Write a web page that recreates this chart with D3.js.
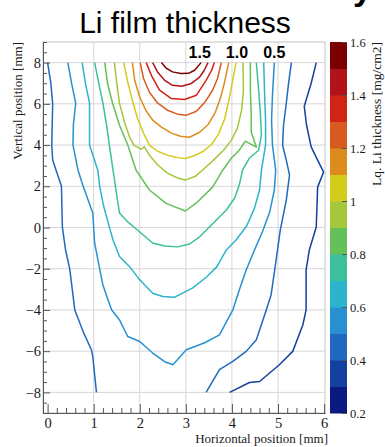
<!DOCTYPE html>
<html>
<head>
<meta charset="utf-8">
<script src="https://cdn.jsdelivr.net/npm/d3@7"></script>
<style>
  html, body { margin: 0; padding: 0; background: #fff; }
  svg { display: block; }
  .serif { font-family: "Liberation Serif", "DejaVu Serif", serif; fill: #1a1a1a; }
  .sans { font-family: "Liberation Sans", Arial, sans-serif; fill: #000; }
  .grid-line { stroke: #d6d6d6; stroke-width: 1; }
  .axis path, .axis line { stroke: #555; }
</style>
</head>
<body>
<div class="container"></div>
<script>
// contour lines, [horizontal mm, vertical mm]
const contour15 = [[2.47,8],[2.58,7.72],[2.71,7.55],[2.89,7.47],[3.06,7.48],[3.19,7.63],[3.33,8]];
const contour14 = [[2.28,8],[2.39,7.53],[2.54,7.14],[2.71,6.9],[2.91,6.85],[3.12,6.99],[3.3,7.3],[3.4,7.63],[3.48,8]];
const contour13 = [[2.14,8],[2.26,7.34],[2.43,6.66],[2.68,6.26],[2.97,6.21],[3.23,6.42],[3.44,7.14],[3.56,7.63],[3.62,8]];
const contour12 = [[2.01,8],[2.08,7.24],[2.21,6.56],[2.39,6.03],[2.6,5.69],[2.82,5.5],[3.02,5.45],[3.23,5.64],[3.43,6.13],[3.58,6.66],[3.69,7.24],[3.77,8]];
const contour11 = [[1.84,8],[1.89,7.14],[2.0,6.32],[2.13,5.69],[2.28,5.21],[2.47,4.87],[2.69,4.58],[2.88,4.43],[3.08,4.38],[3.3,4.62],[3.49,5.01],[3.64,5.59],[3.75,6.27],[3.84,7.05],[3.93,8]];
const contour10 = [[1.65,8],[1.74,7.05],[1.84,6.17],[1.95,5.3],[2.08,4.58],[2.21,4.0],[2.39,3.7],[2.6,3.51],[2.82,3.39],[2.99,3.35],[3.19,3.49],[3.38,3.7],[3.56,4.04],[3.71,4.53],[3.84,5.25],[3.93,6.13],[4.01,7.05],[4.09,8]];
const contour09 = [[1.45,8],[1.5,7.0],[1.56,6.03],[1.67,5.11],[1.78,4.38],[1.87,4.0],[2.03,3.8],[2.1,3.91],[2.21,3.51],[2.39,3.03],[2.6,2.64],[2.82,2.4],[2.99,2.3],[3.21,2.49],[3.36,2.78],[3.6,3.27],[3.82,3.75],[3.99,4.24],[4.12,4.82],[4.21,5.69],[4.25,6.66],[4.24,8]];
const contour08 = [[1.24,8],[1.3,7.0],[1.41,6.03],[1.56,4.96],[1.74,4.0],[1.92,2.78],[2.21,1.82],[2.57,1.17],[2.99,0.8],[3.23,1.19],[3.58,1.96],[3.8,2.78],[3.99,3.37],[4.16,3.75],[4.29,4.19],[4.53,3.9],[4.42,4.62],[4.42,5.45],[4.4,6.66],[4.4,8]];
const contour07 = [[1.02,8],[1.11,7.0],[1.2,6.03],[1.28,4.96],[1.34,4.0],[1.42,2.78],[1.5,1.57],[1.56,0.7],[1.74,0.27],[2.0,-0.22],[2.28,-0.75],[2.54,-0.9],[2.82,-0.94],[3.08,-0.8],[3.3,-0.45],[3.62,0.27],[3.88,0.85],[4.06,1.43],[4.16,2.06],[4.23,2.78],[4.38,3.37],[4.58,3.75],[4.64,4.48],[4.62,5.45],[4.58,6.66],[4.53,8]];
const contour06 = [[0.75,8],[0.82,7.0],[0.91,6.03],[0.91,4.96],[0.91,4.0],[1.09,2.78],[1.13,2.01],[1.21,1.09],[1.34,0.02],[1.42,-0.61],[1.56,-1.41],[1.78,-1.9],[2.0,-2.54],[2.28,-3.19],[2.5,-3.35],[2.75,-3.39],[3.15,-2.93],[3.45,-2.4],[3.67,-1.91],[3.88,-1.09],[4.09,-0.61],[4.32,0.07],[4.49,0.94],[4.6,1.82],[4.64,2.78],[4.73,4.0],[4.73,5.21],[4.71,6.42],[4.69,8]];
const contour05 = [[0.44,8],[0.52,7.0],[0.61,6.03],[0.56,5.01],[0.55,4.0],[0.66,2.78],[0.77,2.01],[0.98,0.7],[1.02,-0.75],[1.13,-2.01],[1.2,-2.79],[1.31,-3.51],[1.39,-4.0],[1.56,-4.48],[1.74,-5.29],[2.0,-5.53],[2.28,-6.09],[2.54,-6.51],[2.72,-6.66],[3.01,-5.93],[3.41,-5.59],[3.73,-5.21],[4.02,-4.0],[4.16,-3.03],[4.31,-2.06],[4.49,-1.09],[4.66,-0.22],[4.82,0.75],[4.92,1.82],[4.95,2.78],[4.88,4.0],[4.86,5.21],[4.88,6.42],[4.92,8]];
const contour04Left = [[0.0,8],[0.07,7.0],[0.11,6.0],[0.1,5.01],[0.09,4.0],[0.11,3.27],[0.22,2.54],[0.3,2.01],[0.32,0.02],[0.39,-1.09],[0.48,-2.01],[0.55,-3.27],[0.59,-4.0],[0.77,-5.05],[0.95,-5.93],[0.98,-6.26],[1.06,-8]];
const contour04Right = [[5.29,8],[5.23,7.0],[5.18,6.03],[5.12,4.96],[5.1,3.99],[5.18,3.27],[5.25,2.54],[5.18,1.33],[5.05,-0.12],[4.96,-1.57],[4.85,-3.27],[4.74,-4.04],[4.53,-5.45],[4.31,-6.01],[4.02,-6.5],[3.73,-6.9],[3.44,-8]];
const contour03 = [[5.83,8],[5.72,7.0],[5.57,5.88],[5.62,4.96],[5.72,3.91],[5.86,3.27],[5.99,2.69],[5.86,1.96],[5.83,0.02],[5.68,-1.09],[5.61,-2.06],[5.61,-4.0],[5.54,-4.72],[5.32,-6.01],[5.03,-6.66],[4.6,-7.47],[4.38,-7.52],[3.95,-8]];

const contourLevels = [1.5, 1.4, 1.3, 1.2, 1.1, 1.0, 0.9, 0.8, 0.7, 0.6, 0.5, 0.4, 0.4, 0.3];
const contourLines = [contour15, contour14, contour13, contour12, contour11, contour10, contour09,
  contour08, contour07, contour06, contour05, contour04Left, contour04Right, contour03];

// labels written over the top ends of some contours
const topLabels = ["1.5", "1.0", "0.5"];
const topLabelX = [3.3, 4.11, 4.92];

const xTicks = [0, 1, 2, 3, 4, 5, 6];
const xTickLabels = ["0", "1", "2", "3", "4", "5", "6"];
const yTicks = [-8, -6, -4, -2, 0, 2, 4, 6, 8];
const yTickLabels = ["\u22128", "\u22126", "\u22124", "\u22122", "0", "2", "4", "6", "8"];
const zTicks = [0.2, 0.4, 0.6, 0.8, 1.0, 1.2, 1.4, 1.6];
const zTickLabels = ["0.2", "0.4", "0.6", "0.8", "1", "1.2", "1.4", "1.6"];
const zBinEdges = [0.2, 0.3, 0.4, 0.5, 0.6, 0.7, 0.8, 0.9, 1.0, 1.1, 1.2, 1.3, 1.4, 1.5, 1.6];

// palette, bottom bin first
const palette = ["#0a1a80", "#1440a0", "#2068c0", "#2890d0", "#2cb4cc", "#3cc09c", "#64c058",
  "#a4c83c", "#d4cc1c", "#dc8c1c", "#d85a20", "#d22414", "#b0141a", "#7b0000"];

const serifFont = '"Liberation Serif", "DejaVu Serif", serif';

const W = 385, H = 447;
const frame = { left: 43, right: 325, top: 42, bottom: 413 };
const bar = { left: 330, right: 347 };

const svg = d3.select(".container")
  .append("svg")
  .attr("width", W)
  .attr("height", H);

const xScale = d3.scaleLinear().domain([-0.1, 6.02]).range([frame.left, frame.right]);
const yScale = d3.scaleLinear().domain([-9, 9]).range([frame.bottom, frame.top]);
const zScale = d3.scaleLinear().domain([0.2, 1.6]).range([frame.bottom, frame.top]);
const color = d3.scaleQuantize().domain([0.2, 1.6]).range(palette);

// title and the clipped heading above it
svg.append("text")
  .attr("class", "sans")
  .attr("x", 353)
  .attr("y", 0)
  .style("font-size", "34px")
  .style("font-weight", "bold")
  .text("y");

svg.append("text")
  .attr("class", "sans")
  .attr("x", 185)
  .attr("y", 33)
  .attr("text-anchor", "middle")
  .style("font-size", "30px")
  .text("Li film thickness");

// frame (top/right light)
svg.append("rect")
  .attr("x", frame.left)
  .attr("y", frame.top)
  .attr("width", frame.right - frame.left)
  .attr("height", frame.bottom - frame.top)
  .attr("fill", "none")
  .attr("stroke", "#c4c4c4");

// grid
svg.append("g")
  .selectAll("line")
  .data(xTicks.filter(d => d > 0 && d < 6))
  .join("line")
  .attr("class", "grid-line")
  .attr("x1", d => xScale(d))
  .attr("x2", d => xScale(d))
  .attr("y1", frame.top)
  .attr("y2", frame.bottom);

svg.append("g")
  .selectAll("line")
  .data(yTicks)
  .join("line")
  .attr("class", "grid-line")
  .attr("x1", frame.left)
  .attr("x2", frame.right)
  .attr("y1", d => yScale(d))
  .attr("y2", d => yScale(d));

// contours
const line = d3.line()
  .curve(d3.curveLinear)
  .x(d => xScale(d[0]))
  .y(d => yScale(d[1]));

svg.append("g")
  .selectAll("path")
  .data(contourLines)
  .join("path")
  .attr("d", line)
  .attr("fill", "none")
  .attr("stroke", (d, i) => color(contourLevels[i] + 0.05))
  .attr("stroke-width", 1.5)
  .attr("stroke-linejoin", "round");

svg.append("g")
  .selectAll("text")
  .data(topLabels)
  .join("text")
  .attr("class", "sans")
  .attr("x", (d, i) => xScale(topLabelX[i]))
  .attr("y", yScale(8.2))
  .attr("text-anchor", "middle")
  .style("font-size", "16px")
  .style("font-weight", "bold")
  .text(d => d);

// axes, ROOT style ticks pointing inward
const xMinor = d3.range(0, 6.01, 0.2).filter(d => Math.abs(d - Math.round(d)) > 0.01);
const yMinor = d3.range(-9, 9.01, 0.5).filter(d => d % 2 !== 0);

svg.append("g")
  .attr("class", "axis")
  .attr("transform", `translate(0,${frame.bottom})`)
  .call(d3.axisBottom(xScale).tickValues(xMinor).tickSize(-5).tickSizeOuter(0).tickFormat(""))
  .call(g => g.select(".domain").remove());

svg.append("g")
  .attr("class", "axis")
  .attr("transform", `translate(0,${frame.bottom})`)
  .call(d3.axisBottom(xScale).tickValues(xTicks).tickSize(-9).tickSizeOuter(0)
    .tickFormat((d, i) => xTickLabels[i]))
  .attr("font-family", serifFont)
  .attr("font-size", 14.5)
  .call(g => g.selectAll("text").attr("dy", null).attr("y", 15));

svg.append("g")
  .attr("class", "axis")
  .attr("transform", `translate(${frame.left},0)`)
  .call(d3.axisLeft(yScale).tickValues(yMinor).tickSize(-4).tickSizeOuter(0).tickFormat(""))
  .call(g => g.select(".domain").remove());

svg.append("g")
  .attr("class", "axis")
  .attr("transform", `translate(${frame.left},0)`)
  .call(d3.axisLeft(yScale).tickValues(yTicks).tickSize(-7).tickSizeOuter(0)
    .tickPadding(2).tickFormat((d, i) => yTickLabels[i]))
  .attr("font-family", serifFont)
  .attr("font-size", 14.5);

svg.selectAll(".axis text").attr("fill", "#1a1a1a");

svg.append("text")
  .attr("class", "serif")
  .attr("transform", `translate(21.5,${frame.top}) rotate(-90)`)
  .attr("text-anchor", "end")
  .style("font-size", "13px")
  .text("Vertical position [mm]");

svg.append("text")
  .attr("class", "serif")
  .attr("x", 328)
  .attr("y", 443)
  .attr("text-anchor", "end")
  .style("font-size", "13px")
  .text("Horizontal position [mm]");

// colour bar
const bins = d3.pairs(zBinEdges);
svg.append("g")
  .selectAll("rect")
  .data(bins)
  .join("rect")
  .attr("x", bar.left)
  .attr("width", bar.right - bar.left)
  .attr("y", d => zScale(d[1]))
  .attr("height", d => zScale(d[0]) - zScale(d[1]) + 0.5)
  .attr("fill", d => color((d[0] + d[1]) / 2));

svg.append("g")
  .attr("class", "axis")
  .attr("transform", `translate(${bar.right},0)`)
  .call(d3.axisRight(zScale).tickValues(zTicks).tickSize(-5).tickSizeOuter(0)
    .tickPadding(3).tickFormat((d, i) => zTickLabels[i]))
  .attr("font-family", serifFont)
  .attr("font-size", 12.5)
  .call(g => g.select(".domain").remove())
  .call(g => g.selectAll("line").attr("stroke", "#222"))
  .call(g => g.selectAll("text").attr("fill", "#1a1a1a"));

svg.append("text")
  .attr("class", "serif")
  .attr("transform", `translate(381,${frame.top}) rotate(-90)`)
  .attr("text-anchor", "end")
  .style("font-size", "13.5px")
  .text("Lq. Li thickness [mg/cm2]");
</script>
</body>
</html>
